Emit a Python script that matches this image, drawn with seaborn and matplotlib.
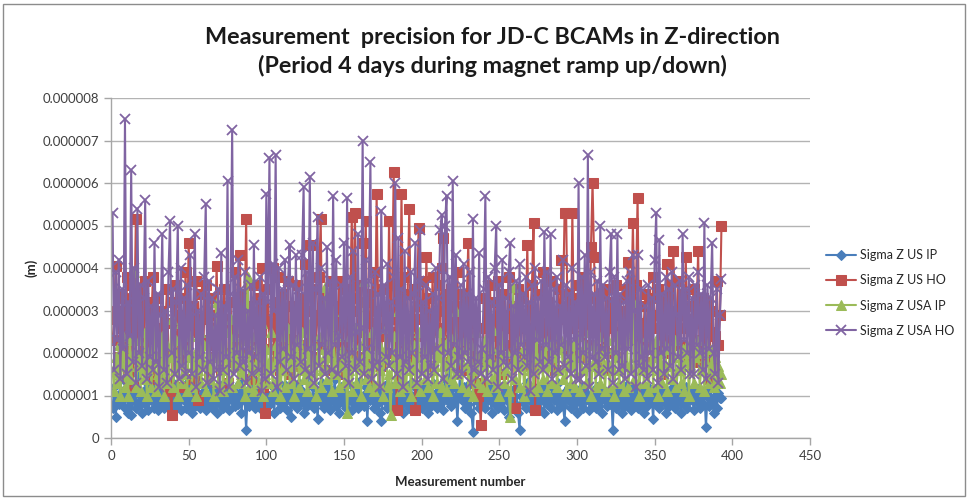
import numpy as np
import pandas as pd
import matplotlib
matplotlib.use("Agg")
import matplotlib.pyplot as plt
from matplotlib.ticker import FuncFormatter
from matplotlib.patches import Rectangle
import seaborn as sns

# Sigma Z values per measurement, in micrometres (converted to metres for plotting)
sigma_us_ip = [
    0.7, 1.2, 0.5, 1.0, 0.8, 1.4, 0.9, 1.1, 0.7, 1.3, 0.6, 1.0, 0.55, 0.9, 1.2, 0.7, 1.5, 0.8, 1.0, 0.6,
    1.1, 0.8, 1.3, 0.65, 1.0, 0.9, 1.2, 0.7, 1.0, 0.65, 1.1, 0.8, 1.4, 0.7, 0.9, 1.2, 0.75, 1.0, 0.8, 1.3,
    0.7, 1.0, 0.85, 1.2, 0.65, 1.1, 0.9, 0.7, 1.3, 0.8, 1.0, 0.6, 1.2, 0.75, 0.95, 1.4, 0.7, 1.0, 0.85, 1.1,
    0.65, 1.0, 0.8, 1.25, 0.7, 1.1, 0.9, 0.6, 1.2, 0.8, 1.0, 0.7, 1.3, 0.85, 1.05, 0.65, 1.2, 0.9, 1.1, 0.75,
    1.0, 0.8, 1.3, 0.6, 1.1, 0.9, 0.2, 1.0, 0.75, 1.2, 0.85, 1.4, 0.7, 1.0, 0.8, 1.15, 0.65, 1.05, 0.9, 1.3,
    0.75, 1.0, 0.85, 1.2, 0.6, 1.1, 0.9, 1.3, 0.7, 1.0, 0.8, 1.25, 0.65, 1.05, 0.9, 0.5, 1.2, 0.8, 1.0, 0.7,
    1.3, 0.85, 1.1, 0.6, 1.0, 0.75, 1.5, 0.9, 0.8, 1.2, 0.7, 1.0, 0.45, 1.1, 0.85, 1.3, 0.7, 1.0, 0.8, 1.2,
    0.65, 1.05, 0.9, 1.4, 0.75, 1.0, 0.6, 1.2, 0.85, 1.1, 0.7, 1.3, 0.9, 1.0, 0.65, 1.2, 0.8, 1.05, 0.7, 1.35,
    0.85, 1.0, 0.75, 1.2, 0.4, 1.1, 0.9, 1.3, 0.7, 1.0, 0.8, 1.15, 0.6, 0.4, 1.05, 0.9, 1.25, 0.7, 1.0, 0.8,
    1.2, 0.65, 1.1, 0.9, 1.4, 0.75, 1.0, 0.6, 1.2, 0.85, 1.05, 0.7, 1.3, 0.9, 1.0, 0.65, 1.15, 0.8, 1.0, 0.7,
    1.2, 0.85, 1.1, 0.6, 1.0, 0.75, 1.3, 0.9, 1.05, 0.7, 1.2, 0.8, 1.0, 0.65, 1.4, 0.9, 1.1, 1.65, 0.75, 1.2,
    0.85, 1.0, 0.4, 1.1, 1.7, 0.9, 1.2, 0.7, 1.0, 0.8, 1.3, 0.6, 0.15, 1.05, 0.9, 1.2, 0.7, 1.0, 0.85, 1.1,
    0.7, 1.25, 0.9, 1.0, 0.6, 1.15, 0.8, 1.3, 0.7, 1.0, 0.85, 1.2, 0.65, 1.05, 0.9, 0.5, 1.1, 0.75, 1.0, 0.8,
    1.2, 0.6, 0.2, 1.0, 0.85, 1.1, 0.7, 1.3, 0.9, 1.0, 0.65, 1.2, 0.8, 1.05, 0.7, 1.15, 0.9, 1.0, 0.6, 1.25,
    0.8, 1.0, 0.7, 1.2, 0.9, 1.05, 0.65, 1.3, 0.85, 1.0, 0.75, 0.4, 1.1, 0.9, 1.2, 0.7, 1.0, 0.8, 1.15, 0.6,
    1.0, 0.85, 1.2, 0.7, 1.05, 0.9, 1.3, 0.65, 1.0, 0.8, 1.1, 0.7, 1.2, 0.85, 1.0, 0.6, 1.15, 0.9, 0.75, 1.05,
    0.8, 1.0, 0.2, 1.1, 0.7, 1.2, 0.85, 1.0, 0.6, 1.1, 0.75, 1.25, 0.9, 1.0, 0.65, 1.15, 0.8, 1.05, 0.7, 1.2,
    0.85, 1.0, 0.6, 1.1, 0.75, 1.2, 0.9, 1.0, 0.45, 1.15, 0.8, 1.05, 0.7, 1.2, 0.85, 1.0, 0.6, 1.1, 0.75, 1.0,
    0.9, 1.2, 0.7, 1.05, 0.85, 1.1, 0.6, 1.0, 0.8, 1.2, 0.7, 1.05, 0.9, 1.1, 0.65, 1.0, 0.85, 1.15, 0.7, 1.0,
    0.8, 1.1, 0.25, 1.0, 0.75, 1.2, 0.85, 0.6, 1.0, 0.7, 1.05, 0.95, 0.95,
]

sigma_us_ho = [
    2.3, 2.8, 4.05, 3.0, 3.4, 1.9, 2.6, 3.3, 2.2, 3.8, 1.5, 2.9, 3.6, 1.2, 2.7, 5.15, 2.4, 3.1, 1.8, 3.5,
    2.1, 3.7, 2.5, 1.6, 3.2, 2.8, 3.8, 1.4, 2.6, 3.3, 1.9, 2.4, 3.0, 1.3, 2.7, 3.5, 2.0, 1.1, 0.55, 3.2,
    2.4, 3.6, 1.8, 2.9, 3.3, 1.2, 2.6, 3.9, 2.1, 4.6, 2.8, 1.4, 3.1, 2.5, 3.7, 0.9, 2.3, 3.4, 1.7, 2.8,
    3.6, 2.2, 1.5, 2.9, 3.3, 1.9, 2.6, 4.05, 2.4, 3.1, 1.6, 2.8, 3.5, 2.0, 1.3, 2.7, 3.2, 1.8, 2.5, 3.9,
    2.2, 2.9, 4.3, 1.7, 3.4, 2.6, 5.15, 2.0, 3.1, 1.4, 2.7, 3.6, 2.3, 1.9, 3.3, 2.5, 4.0, 1.2, 0.6, 2.8,
    3.5, 2.1, 2.7, 4.0, 1.8, 3.2, 2.4, 3.8, 1.6, 2.9, 3.4, 2.0, 2.6, 3.7, 1.5, 2.3, 3.1, 1.9, 2.8, 3.6,
    2.2, 1.7, 3.3, 2.5, 4.1, 2.0, 3.0, 4.55, 2.6, 1.9, 3.5, 2.3, 2.9, 3.8, 5.15, 2.1, 3.4, 1.6, 2.7, 3.2,
    2.0, 3.7, 2.4, 1.8, 3.1, 2.6, 3.7, 2.2, 1.5, 2.9, 3.5, 2.0, 2.7, 3.3, 5.2, 2.4, 5.3, 3.0, 1.9, 3.6,
    2.5, 4.6, 3.2, 5.1, 2.3, 1.4, 3.4, 2.7, 3.9, 2.2, 5.75, 3.0, 2.4, 1.7, 3.5, 2.6, 3.1, 2.0, 5.1, 2.8,
    3.6, 6.25, 2.5, 0.65, 3.2, 2.1, 5.75, 2.7, 3.8, 2.2, 3.4, 5.4, 2.6, 1.9, 3.5, 0.65, 2.8, 4.95, 3.1, 2.4,
    3.7, 2.0, 4.25, 2.8, 3.3, 1.7, 3.8, 2.5, 3.0, 2.1, 3.6, 2.6, 4.0, 4.7, 2.3, 3.4, 1.8, 2.9, 3.5, 2.2,
    3.1, 2.6, 3.9, 2.0, 2.8, 3.4, 1.6, 2.5, 3.2, 4.6, 2.2, 3.0, 1.4, 2.7, 1.3, 1.0, 1.2, 0.3, 1.3, 2.6,
    3.3, 2.1, 2.8, 3.6, 1.9, 2.5, 3.2, 2.0, 3.7, 2.4, 1.5, 2.9, 3.4, 2.2, 2.7, 3.8, 1.8, 2.6, 3.1, 0.7,
    2.4, 3.5, 2.0, 2.9, 3.3, 1.7, 2.6, 4.55, 2.3, 3.0, 3.6, 5.05, 0.65, 2.8, 3.4, 2.1, 2.7, 3.9, 1.9, 2.5,
    3.2, 2.0, 3.7, 2.4, 3.0, 1.6, 2.8, 3.5, 2.2, 4.2, 3.1, 5.3, 5.3, 2.6, 3.4, 2.1, 5.3, 2.7, 3.3, 2.0,
    3.6, 2.4, 2.9, 3.8, 1.9, 2.6, 3.3, 2.2, 4.5, 6.0, 4.25, 2.5, 3.0, 1.8, 2.7, 3.4, 2.1, 2.8, 3.5, 1.6,
    2.6, 3.2, 2.0, 2.9, 3.6, 1.9, 2.5, 3.3, 2.2, 3.0, 2.7, 3.5, 4.15, 2.4, 3.2, 5.05, 2.8, 3.6, 5.65, 2.3,
    3.1, 2.0, 2.7, 3.4, 1.8, 2.5, 3.3, 2.1, 3.8, 2.6, 2.9, 3.5, 2.2, 1.5, 2.8, 3.3, 2.0, 4.1, 2.7, 3.6,
    2.3, 4.4, 3.0, 2.5, 3.7, 2.2, 2.9, 3.4, 1.9, 4.25, 2.6, 3.1, 2.0, 2.8, 3.5, 2.3, 3.0, 4.4, 1.8, 2.7,
    3.3, 2.1, 2.6, 3.2, 1.4, 2.5, 3.0, 1.7, 2.4, 3.7, 2.2, 2.9, 5.0,
]

sigma_usa_ip = [
    1.6, 1.1, 1.9, 1.3, 2.2, 1.0, 1.7, 2.4, 1.2, 1.8, 1.0, 2.3, 1.4, 2.0, 3.9, 1.2, 1.7, 2.3, 1.1, 1.9,
    1.4, 2.5, 1.0, 1.6, 2.1, 1.2, 1.8, 2.6, 1.1, 1.5, 2.0, 1.3, 2.4, 1.0, 1.7, 2.2, 1.3, 1.9, 2.8, 1.2,
    1.6, 2.3, 1.0, 1.8, 2.7, 1.3, 1.5, 2.1, 1.1, 1.9, 2.4, 1.2, 1.7, 2.0, 1.0, 1.6, 2.5, 1.3, 1.8, 2.2,
    1.1, 1.7, 2.3, 1.4, 1.9, 1.0, 2.6, 3.2, 1.3, 1.8, 2.2, 1.1, 1.6, 2.5, 1.4, 2.0, 2.8, 1.2, 2.4, 1.7,
    2.1, 1.3, 2.6, 1.5, 1.9, 1.0, 2.3, 3.8, 1.2, 1.8, 2.4, 1.1, 1.6, 2.2, 1.3, 1.9, 2.7, 1.0, 1.5, 2.1,
    1.3, 1.8, 2.5, 1.1, 1.7, 2.2, 1.4, 2.0, 1.0, 1.6, 2.4, 1.2, 1.9, 2.6, 1.3, 1.7, 2.1, 1.0, 1.8, 2.3,
    1.2, 1.6, 2.5, 1.4, 2.0, 1.1, 1.8, 2.7, 1.3, 1.7, 2.2, 1.0, 1.9, 2.4, 1.2, 1.6, 2.1, 3.55, 1.4, 1.9,
    2.3, 1.1, 3.0, 1.5, 1.8, 2.4, 1.2, 1.7, 2.1, 1.3, 1.9, 0.6, 1.6, 2.4, 1.1, 1.8, 2.6, 1.3, 1.7, 2.2,
    1.0, 1.9, 3.7, 1.4, 2.0, 1.2, 1.7, 2.5, 1.1, 1.8, 2.3, 1.3, 1.6, 2.1, 1.0, 1.9, 2.6, 1.2, 1.5, 0.55,
    1.8, 2.4, 1.3, 1.7, 3.0, 1.1, 2.0, 1.4, 2.3, 1.2, 1.8, 2.6, 1.0, 1.6, 2.2, 1.3, 1.9, 2.5, 1.1, 1.7,
    2.1, 1.4, 2.4, 1.2, 1.8, 2.3, 1.0, 1.6, 2.0, 1.3, 1.9, 2.5, 1.2, 1.7, 2.2, 1.1, 1.8, 2.4, 1.4, 2.0,
    1.3, 3.0, 1.5, 1.9, 2.3, 1.2, 1.7, 2.1, 2.4, 1.1, 1.8, 2.2, 1.0, 1.6, 2.5, 1.3, 1.9, 2.0, 1.2, 1.7,
    2.3, 1.1, 1.8, 2.2, 1.4, 2.55, 1.2, 1.7, 2.1, 1.0, 1.9, 2.4, 1.3, 1.6, 2.0, 1.1, 0.5, 1.8, 3.55, 1.4,
    1.9, 2.3, 1.2, 1.7, 2.1, 1.0, 1.8, 2.4, 1.3, 1.6, 2.2, 1.1, 1.9, 2.5, 1.2, 1.7, 2.0, 1.4, 1.8, 2.3,
    1.1, 1.7, 2.2, 1.3, 1.9, 2.4, 1.2, 1.6, 2.1, 2.3, 1.4, 2.2, 1.1, 1.8, 2.3, 1.3, 1.7, 2.2, 1.2, 1.9,
    2.4, 1.1, 1.6, 2.1, 2.2, 1.3, 1.8, 2.5, 1.0, 1.7, 2.2, 1.2, 1.9, 2.4, 1.3, 1.6, 2.0, 1.1, 1.8, 2.3,
    1.2, 1.7, 2.1, 1.0, 1.9, 2.4, 1.3, 1.6, 2.2, 1.1, 1.8, 2.5, 1.2, 1.7, 2.3, 3.2, 1.4, 1.9, 2.2, 1.0,
    1.6, 2.1, 1.3, 1.8, 2.4, 1.1, 1.7, 2.2, 1.2, 1.9, 2.3, 1.0, 1.6, 2.0, 1.3, 1.8, 2.2, 1.1, 1.7, 2.1,
    1.4, 1.9, 2.3, 1.2, 1.6, 2.0, 1.3, 2.1, 1.1, 1.8, 2.2, 1.0, 1.7, 2.0, 1.3, 1.9, 2.3, 2.1, 1.2, 1.6,
    2.0, 1.1, 1.8, 2.2, 1.3, 1.6, 2.1, 1.2, 1.9, 1.4, 1.7, 1.3, 1.5,
]

sigma_usa_ho = [
    5.3, 1.6, 3.9, 2.3, 4.2, 1.4, 3.5, 2.1, 7.5, 1.5, 3.2, 2.4, 6.3, 1.8, 4.0, 1.3, 5.4, 2.0, 3.6, 1.7,
    3.3, 5.6, 1.4, 3.7, 1.9, 3.1, 1.6, 4.6, 1.8, 3.4, 1.2, 2.9, 4.8, 1.6, 3.0, 1.3, 3.9, 5.1, 2.0, 3.5,
    1.5, 3.2, 5.0, 1.4, 4.0, 1.7, 3.3, 1.5, 3.6, 2.0, 4.3, 1.5, 3.1, 4.8, 1.2, 3.0, 1.9, 3.4, 1.6, 3.8,
    5.5, 1.3, 3.7, 1.8, 3.3, 1.4, 2.9, 1.6, 3.5, 1.1, 4.35, 1.6, 3.1, 1.9, 6.05, 1.2, 3.4, 7.25, 1.5, 3.8,
    2.0, 4.2, 1.7, 3.5, 1.8, 3.9, 1.3, 3.0, 2.0, 3.6, 1.5, 4.55, 1.9, 3.2, 1.6, 3.8, 1.1, 3.4, 1.4, 5.75,
    3.2, 6.6, 1.5, 4.1, 3.0, 6.65, 1.2, 4.0, 1.8, 3.5, 2.1, 4.2, 1.6, 3.7, 4.55, 1.9, 3.6, 1.4, 4.3, 2.2,
    3.5, 1.8, 4.3, 5.9, 1.6, 3.9, 2.1, 6.15, 1.5, 4.6, 1.3, 3.5, 5.2, 1.7, 4.0, 2.2, 3.3, 1.5, 4.5, 2.0,
    3.7, 1.6, 5.7, 2.2, 4.2, 1.5, 2.4, 3.6, 1.9, 4.6, 1.7, 5.65, 1.3, 3.8, 2.0, 4.4, 1.6, 2.5, 4.8, 1.8,
    2.6, 7.0, 1.5, 4.2, 2.1, 3.7, 6.5, 1.4, 1.7, 3.9, 1.8, 3.4, 1.2, 5.35, 2.5, 3.6, 1.9, 4.1, 1.7, 3.2,
    2.0, 3.8, 6.0, 1.5, 4.7, 1.9, 3.5, 1.2, 4.4, 1.8, 3.3, 1.6, 3.9, 2.0, 3.4, 4.6, 1.3, 3.7, 4.9, 1.5,
    3.2, 1.9, 3.6, 1.4, 3.0, 1.7, 3.4, 1.6, 4.0, 2.1, 3.3, 4.9, 5.25, 1.4, 5.0, 5.7, 2.0, 3.8, 1.7, 6.05,
    2.2, 4.3, 1.5, 1.9, 3.6, 1.5, 4.1, 2.0, 3.4, 1.8, 3.9, 1.3, 5.15, 1.6, 3.3, 1.8, 4.35, 1.5, 2.1, 3.5,
    5.7, 1.4, 3.8, 1.9, 3.2, 1.6, 4.0, 5.0, 1.2, 3.6, 2.0, 4.2, 1.8, 3.3, 1.7, 3.9, 4.6, 1.4, 3.1, 2.0,
    3.7, 1.6, 4.1, 2.2, 3.4, 1.9, 3.8, 1.7, 3.2, 1.1, 3.6, 1.5, 4.0, 2.3, 3.3, 1.8, 3.7, 1.6, 4.85, 2.2,
    3.9, 1.8, 4.8, 1.4, 3.5, 2.0, 3.8, 1.6, 3.1, 2.2, 4.2, 1.7, 3.6, 1.9, 3.4, 1.5, 4.0, 2.3, 3.2, 1.4,
    6.0, 1.4, 3.8, 2.0, 4.3, 1.7, 6.65, 1.2, 3.9, 1.9, 3.4, 1.8, 3.7, 1.5, 5.0, 2.1, 3.6, 1.9, 3.3, 1.6,
    3.9, 4.8, 1.3, 3.8, 2.0, 4.8, 1.6, 3.4, 1.7, 3.2, 1.4, 3.7, 2.1, 3.9, 1.5, 4.3, 3.0, 1.2, 4.3, 1.7,
    3.5, 1.9, 1.6, 3.1, 1.4, 3.6, 2.0, 3.3, 1.6, 4.2, 5.3, 1.3, 4.65, 2.0, 3.4, 1.5, 3.8, 2.1, 3.5, 1.7,
    3.9, 1.4, 3.6, 2.9, 1.9, 3.7, 1.6, 4.8, 2.3, 3.5, 2.0, 3.8, 1.5, 3.3, 1.5, 3.6, 2.2, 3.9, 2.0, 3.4,
    1.6, 5.05, 1.4, 3.6, 2.1, 3.3, 4.6, 2.0, 1.5, 3.5, 1.3, 2.9, 3.75,
]

series_names = ["Sigma Z US IP", "Sigma Z US HO", "Sigma Z USA IP", "Sigma Z USA HO"]
series_values = [sigma_us_ip, sigma_us_ho, sigma_usa_ip, sigma_usa_ho]
series_colors = ["#4A7EBB", "#C0504D", "#9BBB59", "#8064A2"]
series_markers = ["D", "s", "^", "x"]
series_msize = [5.5, 7, 7, 7]

x_ticks = [0, 50, 100, 150, 200, 250, 300, 350, 400, 450]
y_ticks_um = [0, 1, 2, 3, 4, 5, 6, 7, 8]

title_text = "Measurement  precision for JD-C BCAMs in Z-direction\n(Period 4 days during magnet ramp up/down)"
x_label = "Measurement number"
y_label = "(m)"

sns.set_theme(style="white")
plt.rcParams["font.family"] = ["Lato", "DejaVu Sans"]

fig = plt.figure(figsize=(9.69, 4.99), dpi=100)
ax = fig.add_axes([111 / 969, 1 - 438 / 499, (810 - 111) / 969, (438 - 98) / 499])

frames = []
for name, vals in zip(series_names, series_values):
    frames.append(pd.DataFrame({
        "Measurement": np.arange(1, len(vals) + 1),
        "Sigma": np.asarray(vals) * 1e-6,
        "Series": name,
    }))
df = pd.concat(frames, ignore_index=True)

for name, color, marker, ms in zip(series_names, series_colors, series_markers, series_msize):
    sub = df[df["Series"] == name]
    kw = dict(marker=marker, markersize=ms, markeredgecolor=color, markerfacecolor=color)
    if marker == "x":
        kw["markeredgewidth"] = 1.3
    sns.lineplot(data=sub, x="Measurement", y="Sigma", ax=ax, color=color,
                 linewidth=1.5, label=name, estimator=None, sort=False, legend=False, **kw)

ax.set_xlim(0, 450)
ax.set_ylim(0, 8e-6)
ax.set_xticks(x_ticks)
ax.set_yticks([v * 1e-6 for v in y_ticks_um])
ax.yaxis.set_major_formatter(FuncFormatter(lambda v, p: "0" if abs(v) < 1e-12 else f"{v:.6f}"))

ax.grid(axis="y", color="#B3B3B3", linewidth=1.0)
ax.grid(axis="x", visible=False)
for side in ["top", "right"]:
    ax.spines[side].set_visible(False)
for side in ["left", "bottom"]:
    ax.spines[side].set_color("#A6A6A6")
    ax.spines[side].set_linewidth(1.0)
ax.tick_params(axis="both", which="major", length=5, width=1.0, color="#A6A6A6",
               labelsize=9.5, labelcolor="#404040", direction="out", bottom=True, left=True)

ax.set_xlabel(x_label, fontsize=9.5, fontweight="bold", color="#262626", labelpad=10)
ax.set_ylabel(y_label, fontsize=9.5, fontweight="bold", color="#262626", labelpad=4)

fig.text(492 / 969, 1 - 52 / 499, title_text, ha="center", va="center",
         fontsize=16.8, fontweight="bold", color="#1A1A1A", linespacing=1.4)

# legend built from the plotted lines
handles = ax.get_lines()[:4]
fig.legend(handles=handles, labels=series_names, loc="center left",
           bbox_to_anchor=(815 / 969, 1 - 293 / 499), frameon=False,
           fontsize=9, handlelength=2.4, labelspacing=1.05, handletextpad=0.3,
           labelcolor="#262626")

# outer chart border
fig.patches.append(Rectangle((3 / 969, 3 / 499), 962 / 969, 492 / 499,
                             transform=fig.transFigure, fill=False,
                             edgecolor="#8C8C8C", linewidth=1.0))

fig.savefig("out.png", dpi=100)
